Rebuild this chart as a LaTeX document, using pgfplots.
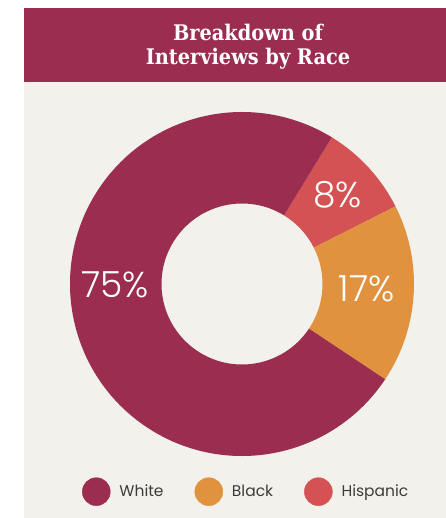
\documentclass[border=0pt]{standalone}
\usepackage{fontspec}
\usepackage{pgfplots}
\usepackage{pgfplotstable}
\pgfplotsset{compat=1.18}
\setmainfont{Poppins}
\newfontfamily\titlefont{DejaVu Serif Condensed}
\newfontfamily\lblfont{Poppins Light}
\definecolor{wht}{HTML}{9A2D50}
\definecolor{blk}{HTML}{E0923E}
\definecolor{hisp}{HTML}{D45254}
\definecolor{bgc}{HTML}{F3F1EC}
\definecolor{legtext}{HTML}{3C3C3C}

% slice sizes (percent), drawn clockwise from the top-right
\pgfplotstableread{
label    value pct lx     ly
Hispanic 8.8   8   0.555  0.442
Black    16.8  17  0.724  -0.099
White    74.4  75  -0.738 -0.081
}\piedata

\begin{document}
\begin{tikzpicture}
\fill[white] (0bp,0bp) rectangle (446bp,518bp);
\fill[bgc] (24bp,0bp) rectangle (446bp,436bp);
\fill[wht] (24bp,436bp) rectangle (446bp,510bp);
\node[anchor=base,text=white,font=\titlefont\bfseries\fontsize{21.5bp}{24bp}\selectfont] at (248bp,477bp) {Breakdown of};
\node[anchor=base,text=white,font=\titlefont\bfseries\fontsize{21.5bp}{24bp}\selectfont] at (248bp,453bp) {Interviews by Race};

\pgfplotstablegetelem{0}{value}\of\piedata \pgfmathsetmacro\vH{\pgfplotsretval}
\pgfplotstablegetelem{1}{value}\of\piedata \pgfmathsetmacro\vB{\pgfplotsretval}
\pgfplotstablegetelem{2}{value}\of\piedata \pgfmathsetmacro\vW{\pgfplotsretval}
\pgfmathsetmacro\aA{58.5}
\pgfmathsetmacro\aB{\aA-3.6*\vH}
\pgfmathsetmacro\aC{\aB-3.6*\vB}
\pgfmathsetmacro\aD{\aC-3.6*\vW}

\begin{axis}[
  at={(242bp,234bp)}, anchor=center,
  width=344bp, height=344bp, scale only axis,
  xmin=-1, xmax=1, ymin=-1, ymax=1,
  hide axis, clip=false,
  legend columns=3,
  legend style={at={(-0.055,-0.111)}, anchor=west, draw=none, fill=none,
    inner sep=0pt, outer sep=0pt, column sep=0pt,
    nodes={inner sep=0pt, anchor=base west},
    font=\fontsize{15.5bp}{18bp}\selectfont, text=legtext},
]
\fill[hisp] (axis cs:0,0) ++(\aA:172bp) arc[start angle=\aA,end angle=\aB,radius=172bp] -- ++(\aB:-91.5bp) arc[start angle=\aB,end angle=\aA,radius=80.5bp] -- cycle;
\fill[blk] (axis cs:0,0) ++(\aB:172bp) arc[start angle=\aB,end angle=\aC,radius=172bp] -- ++(\aC:-91.5bp) arc[start angle=\aC,end angle=\aB,radius=80.5bp] -- cycle;
\fill[wht] (axis cs:0,0) ++(\aC:172bp) arc[start angle=\aC,end angle=\aD,radius=172bp] -- ++(\aD:-91.5bp) arc[start angle=\aD,end angle=\aC,radius=80.5bp] -- cycle;

\node[anchor=base,text=white,font=\lblfont\fontsize{36bp}{40bp}\selectfont] at (axis cs:0.555,0.442) {8\%};
\node[anchor=base,text=white,font=\lblfont\fontsize{36bp}{40bp}\selectfont] at (axis cs:0.724,-0.099) {17\%};
\node[anchor=base,text=white,font=\lblfont\fontsize{36bp}{40bp}\selectfont] at (axis cs:-0.738,-0.081) {75\%};

\addlegendimage{legend image code/.code={\path (-31bp,-14bp) (37bp,14bp); \fill[wht] (14bp,5bp) circle[radius=14bp];}}
\addlegendentry{White}
\addlegendimage{legend image code/.code={\path (-31bp,-14bp) (37bp,14bp); \fill[blk] (14bp,5bp) circle[radius=14bp];}}
\addlegendentry{Black}
\addlegendimage{legend image code/.code={\path (-31bp,-14bp) (37bp,14bp); \fill[hisp] (14bp,5bp) circle[radius=14bp];}}
\addlegendentry{Hispanic}
\end{axis}
\end{tikzpicture}
\end{document}
